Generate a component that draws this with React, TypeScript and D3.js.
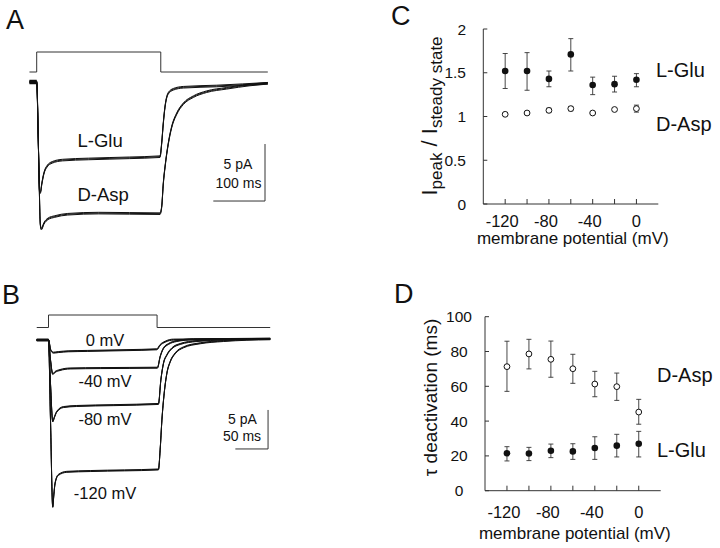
import React from 'react';
import * as d3 from 'd3';

type Pt = [number, number];

const FONT = '"Liberation Sans", Arial, Helvetica, sans-serif';

// ---- panel A: traces, time in ms, current in pA
const aCommand: Pt[] = [[-14, 0], [0, 0], [0, 1], [240, 1], [240, 0], [447, 0]];
const aBaseline: Pt[] = [[-14, 0], [0, 0]];
const aGlu: Pt[] = [
  [-14, 0], [0, 0], [3, -5], [5.5, -9.6], [7, -9.7], [10, -8.9], [14, -8.0], [20, -7.4],
  [30, -7.05], [50, -6.85], [100, -6.75], [180, -6.65], [238.5, -6.55], [241.8, -5.35],
  [244.9, -3.6], [248.2, -2.17], [254.5, -0.99], [264.2, -0.64], [283.6, -0.46],
  [348.2, -0.35], [447, -0.11],
];
const aAsp: Pt[] = [
  [-14, 0], [0, 0], [4, -7], [7, -12.5], [9, -12.9], [14, -12.4], [22, -12.0], [35, -11.8],
  [60, -11.6], [120, -11.5], [238.5, -11.55], [241.8, -10.94], [244.9, -8.89], [248.2, -7.46],
  [254.5, -5.41], [261.1, -3.95], [270.8, -2.78], [283.6, -1.91], [302.9, -1.29],
  [328.8, -0.85], [367.5, -0.55], [412.6, -0.26], [447, -0.11],
];

// ---- panel B: traces at holding potentials
const bCommand: Pt[] = [[-18, 0], [0, 0], [0, 1], [166, 1], [166, 0], [339, 0]];
const bBaseline: Pt[] = [[-18, 0], [0, 0]];
const b0: Pt[] = [
  [-18, 0], [0, 0], [3.5, -1.3], [7.5, -1.62], [15, -1.55], [30, -1.45], [60, -1.4],
  [120, -1.3], [165.7, -1.19], [170.7, -0.64], [178.4, -0.22], [191.1, 0.05], [339, 0.15],
];
const b40: Pt[] = [
  [-18, 0], [0, 0], [3, -2.5], [6.5, -4.36], [10, -4.1], [17.6, -3.85], [33, -3.65],
  [80, -3.6], [166.6, -3.55], [170.7, -2.14], [175.8, -1.06], [183.5, -0.51],
  [196.3, -0.13], [221.7, 0.09], [339, 0.15],
];
const b80: Pt[] = [
  [-18, 0], [0, 0], [3, -5.5], [6.5, -10.45], [9, -9.9], [12.6, -9.2], [22.7, -8.6],
  [43, -8.46], [100, -8.35], [168.1, -8.2], [171.8, -5.13], [175.8, -2.99], [181, -1.92],
  [188.7, -1.06], [201.4, -0.51], [227, -0.13], [267.7, 0.06], [339, 0.15],
];
const b120: Pt[] = [
  [-18, 0], [0, 0], [3, -10], [6.5, -21.4], [8.2, -19.8], [10, -18.4], [15, -17.3],
  [28, -16.9], [64, -16.8], [168.1, -16.6], [170.7, -14.1], [173.4, -10.26], [176.9, -6.83],
  [181, -4.27], [186.1, -2.78], [193.7, -1.71], [206.4, -0.94], [232, -0.42],
  [267.7, -0.13], [339, 0.1],
];
const bLabels = ['0 mV', '-40 mV', '-80 mV', '-120 mV'];

// ---- panels C and D
const potentials = [-120, -100, -80, -60, -40, -20, 0];
const xTickLabels = [-120, -80, -40, 0];

const ratioGlu = [1.52, 1.52, 1.43, 1.71, 1.36, 1.37, 1.42];
const ratioGluLow = [1.32, 1.3, 1.34, 1.52, 1.25, 1.28, 1.34];
const ratioGluHigh = [1.72, 1.73, 1.52, 1.89, 1.45, 1.46, 1.49];
const ratioAsp = [1.025, 1.04, 1.07, 1.09, 1.04, 1.08, 1.09];
const ratioAspLow = [1.01, 1.025, 1.045, 1.065, 1.025, 1.065, 1.05];
const ratioAspHigh = [1.04, 1.055, 1.095, 1.115, 1.055, 1.095, 1.13];
const ratioTicks = [0, 0.5, 1, 1.5, 2];

const tauAsp = [71.3, 78.6, 75.5, 70.1, 61.3, 59.8, 45.2];
const tauAspLow = [57.1, 70, 65.2, 61.7, 54, 51.9, 38.2];
const tauAspHigh = [85.9, 87, 86, 78.4, 68.6, 67.6, 52.5];
const tauGlu = [21.5, 21.4, 23, 22.6, 24.5, 25.9, 27];
const tauGluLow = [17.1, 17.3, 19, 18, 18, 19.4, 19.4];
const tauGluHigh = [25.3, 24.9, 26.8, 27, 31, 32.4, 34.1];
const tauTicks = [0, 20, 40, 60, 80, 100];

function Trace({ data, x, y, offsets, width = 1 }: any) {
  const line = d3.line<Pt>().x(d => x(d[0])).y(d => y(d[1])).curve(d3.curveMonotoneX);
  const d = line(data) || '';
  return (
    <g>
      {offsets.map((o: number, i: number) => (
        <path key={i} d={d} transform={`translate(0,${o})`} fill="none" stroke="#111" strokeWidth={width} />
      ))}
    </g>
  );
}

function StepLine({ data, x, y }: any) {
  const line = d3.line<Pt>().x(d => x(d[0])).y(d => y(d[1]));
  return <path d={line(data) || ''} fill="none" stroke="#333" strokeWidth={1} />;
}

function ScatterPanel({ x, y, yTicks, yLabelX, yAnchor, xLabelY, tickLabelY, series, yTitle }: any) {
  const [x0, x1] = x.range();
  const [yb, yt] = y.range();
  return (
    <g fontFamily={FONT} fill="#111">
      <line x1={x0} x2={x0} y1={yb} y2={yt} stroke="#333" />
      <line x1={x0} x2={x1} y1={yb} y2={yb} stroke="#333" />
      {yTicks.map((t: number) => (
        <g key={t}>
          <line x1={x0} x2={x0 + 4} y1={y(t)} y2={y(t)} stroke="#333" />
          <text x={yLabelX} y={y(t) + 5.5} fontSize={15.5} textAnchor={yAnchor}>{t}</text>
        </g>
      ))}
      {potentials.map(p => (
        <line key={p} x1={x(p)} x2={x(p)} y1={yb} y2={yb - 5} stroke="#333" />
      ))}
      {xTickLabels.map(p => (
        <text key={p} x={x(p) - (p < 0 ? 3 : 0)} y={tickLabelY} fontSize={16.5} textAnchor="middle">{p}</text>
      ))}
      <text x={(x0 + x1) / 2 + 2} y={xLabelY} fontSize={17} textAnchor="middle">membrane potential (mV)</text>
      {yTitle}
      {series.map((s: any, si: number) => (
        <g key={si}>
          {potentials.map((p, i) => (
            <g key={p} stroke="#333" strokeWidth={0.9}>
              <line x1={x(p)} x2={x(p)} y1={y(s.low[i])} y2={y(s.high[i])} />
              <line x1={x(p) - 2.5} x2={x(p) + 2.5} y1={y(s.low[i])} y2={y(s.low[i])} />
              <line x1={x(p) - 2.5} x2={x(p) + 2.5} y1={y(s.high[i])} y2={y(s.high[i])} />
            </g>
          ))}
          {potentials.map((p, i) =>
            s.open ? (
              <circle key={p} cx={x(p)} cy={y(s.mean[i])} r={2.9} fill="#fff" stroke="#111" strokeWidth={1} />
            ) : (
              <circle key={p} cx={x(p)} cy={y(s.mean[i])} r={3.3} fill="#111" />
            )
          )}
        </g>
      ))}
    </g>
  );
}

export default function App() {
  // panel A scales
  const axA = d3.scaleLinear().domain([0, 100]).range([36.7, 88.4]);
  const ayA = d3.scaleLinear().domain([0, -5]).range([82, 139]);
  const acA = d3.scaleLinear().domain([0, 1]).range([72, 52]);
  // panel B scales
  const axB = d3.scaleLinear().domain([0, 50]).range([48.5, 81.2]);
  const ayB = d3.scaleLinear().domain([0, -5]).range([340, 379]);
  const acB = d3.scaleLinear().domain([0, 1]).range([327.5, 315]);
  // panels C, D
  const xC = d3.scaleLinear().domain([-140, 20]).range([483.3, 658.3]);
  const yC = d3.scaleLinear().domain([0, 2]).range([204, 29]);
  const xD = d3.scaleLinear().domain([-140, 20]).range([485, 660.7]);
  const yD = d3.scaleLinear().domain([0, 100]).range([490.7, 316.7]);

  const barA = { t: 441.6, i: -10.44 };
  const barB = { t: 335.7, i: -13.97 };

  const bTraces = [b0, b40, b80, b120];
  const bLabelY = [346, 386.5, 425, 498.5];

  return (
    <svg width={720} height={548} style={{ position: 'absolute', left: 0, top: 0, background: '#fff' }}
      fontFamily={FONT}>
      <rect width={720} height={548} fill="#fff" />
      {/* panel letters */}
      <g fontSize={27} fill="#111">
        <text x={6} y={29}>A</text>
        <text x={2} y={304}>B</text>
        <text x={391} y={24.5}>C</text>
        <text x={394} y={302.5}>D</text>
      </g>

      {/* A */}
      <StepLine data={aCommand} x={axA} y={acA} />
      <Trace data={aBaseline} x={axA} y={ayA} offsets={[0]} width={4.5} />
      <Trace data={aAsp} x={axA} y={ayA} offsets={[-0.8, 0, 0.8]} width={1} />
      <Trace data={aGlu} x={axA} y={ayA} offsets={[-0.8, 0, 0.8]} width={1} />
      <g fontSize={18.5} fill="#111">
        <text x={77.5} y={146.5}>L-Glu</text>
        <text x={77.5} y={201}>D-Asp</text>
      </g>
      <g stroke="#333" strokeWidth={1}>
        <line x1={axA(barA.t)} x2={axA(barA.t)} y1={ayA(barA.i)} y2={ayA(barA.i + 5)} />
        <line x1={axA(barA.t - 100)} x2={axA(barA.t)} y1={ayA(barA.i)} y2={ayA(barA.i)} />
      </g>
      <g fontSize={14} fill="#111" textAnchor="middle">
        <text x={238} y={169}>5 pA</text>
        <text x={238.5} y={188}>100 ms</text>
      </g>

      {/* B */}
      <StepLine data={bCommand} x={axB} y={acB} />
      <Trace data={bBaseline} x={axB} y={ayB} offsets={[0]} width={3} />
      {bTraces.map((tr, i) => (
        <Trace key={i} data={tr} x={axB} y={ayB} offsets={[-0.5, 0, 0.5]} width={1} />
      ))}
      <g fontSize={16.5} fill="#111" textAnchor="middle">
        {bLabels.map((l, i) => (
          <text key={l} x={105} y={bLabelY[i]}>{l}</text>
        ))}
      </g>
      <g stroke="#333" strokeWidth={1}>
        <line x1={axB(barB.t)} x2={axB(barB.t)} y1={ayB(barB.i)} y2={ayB(barB.i + 5)} />
        <line x1={axB(barB.t - 50)} x2={axB(barB.t)} y1={ayB(barB.i)} y2={ayB(barB.i)} />
      </g>
      <g fontSize={14} fill="#111" textAnchor="middle">
        <text x={242.5} y={423.5}>5 pA</text>
        <text x={242} y={441}>50 ms</text>
      </g>

      {/* C */}
      <ScatterPanel
        x={xC} y={yC} yTicks={ratioTicks} yLabelX={466} yAnchor="end"
        tickLabelY={227} xLabelY={244}
        series={[
          { mean: ratioGlu, low: ratioGluLow, high: ratioGluHigh, open: false },
          { mean: ratioAsp, low: ratioAspLow, high: ratioAspHigh, open: true },
        ]}
        yTitle={
          <text transform="translate(437,116) rotate(-90)" textAnchor="middle" fontSize={22}>
            I<tspan fontSize={17} dy={5}>peak</tspan>
            <tspan dy={-5}> / I</tspan>
            <tspan fontSize={17} dy={5}>steady state</tspan>
          </text>
        }
      />
      <g fontSize={20} fill="#111">
        <text x={656} y={77.3}>L-Glu</text>
        <text x={656} y={131}>D-Asp</text>
      </g>

      {/* D */}
      <ScatterPanel
        x={xD} y={yD} yTicks={tauTicks} yLabelX={459} yAnchor="middle"
        tickLabelY={518} xLabelY={539}
        series={[
          { mean: tauAsp, low: tauAspLow, high: tauAspHigh, open: true },
          { mean: tauGlu, low: tauGluLow, high: tauGluHigh, open: false },
        ]}
        yTitle={
          <text transform="translate(437,397.5) rotate(-90)" textAnchor="middle" fontSize={19}>
            τ deactivation (ms)
          </text>
        }
      />
      <g fontSize={20} fill="#111">
        <text x={657} y={381.5}>D-Asp</text>
        <text x={657} y={456.5}>L-Glu</text>
      </g>
    </svg>
  );
}
